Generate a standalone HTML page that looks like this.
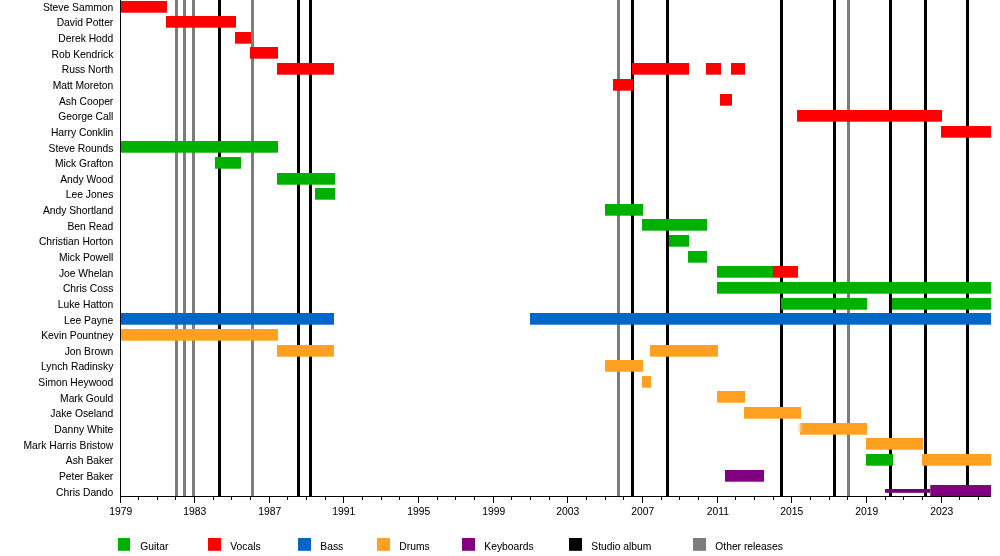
<!DOCTYPE html><html><head><meta charset="utf-8"><style>html,body{margin:0;padding:0;background:#fff;width:1000px;height:556px;overflow:hidden}svg{display:block;will-change:transform}text{font-family:"Liberation Sans",sans-serif;font-size:10.3px;fill:#000;stroke:#000;stroke-width:0.05px}</style></head><body>
<svg width="1000" height="556" viewBox="0 0 1000 556">
<rect x="175" y="0" width="3" height="496" fill="#7c7c7c"/>
<rect x="183" y="0" width="3" height="496" fill="#7c7c7c"/>
<rect x="192" y="0" width="3" height="496" fill="#7c7c7c"/>
<rect x="251" y="0" width="3" height="496" fill="#7c7c7c"/>
<rect x="617" y="0" width="3" height="496" fill="#7c7c7c"/>
<rect x="847" y="0" width="3" height="496" fill="#7c7c7c"/>
<rect x="218" y="0" width="3" height="496" fill="#000"/>
<rect x="297" y="0" width="3" height="496" fill="#000"/>
<rect x="309" y="0" width="3" height="496" fill="#000"/>
<rect x="631" y="0" width="3" height="496" fill="#000"/>
<rect x="666" y="0" width="3" height="496" fill="#000"/>
<rect x="780" y="0" width="3" height="496" fill="#000"/>
<rect x="833" y="0" width="3" height="496" fill="#000"/>
<rect x="889" y="0" width="3" height="496" fill="#000"/>
<rect x="924" y="0" width="3" height="496" fill="#000"/>
<rect x="966" y="0" width="3" height="496" fill="#000"/>
<rect x="121" y="1.00" width="46.00" height="11.7" fill="#ff0000"/>
<rect x="166" y="16.00" width="70.00" height="11.7" fill="#ff0000"/>
<rect x="235" y="32.00" width="16.00" height="11.7" fill="#ff0000"/>
<rect x="250" y="47.00" width="28.00" height="11.7" fill="#ff0000"/>
<rect x="277" y="63.00" width="57.00" height="11.7" fill="#ff0000"/>
<rect x="632" y="63.00" width="57.00" height="11.7" fill="#ff0000"/>
<rect x="706" y="63.00" width="15.00" height="11.7" fill="#ff0000"/>
<rect x="731" y="63.00" width="14.00" height="11.7" fill="#ff0000"/>
<rect x="613" y="79.00" width="20.00" height="11.7" fill="#ff0000"/>
<rect x="720" y="94.00" width="12.00" height="11.7" fill="#ff0000"/>
<rect x="797" y="110.00" width="145.00" height="11.7" fill="#ff0000"/>
<rect x="941" y="126.00" width="50.00" height="11.7" fill="#ff0000"/>
<rect x="121" y="141.00" width="157.00" height="11.7" fill="#00b000"/>
<rect x="215" y="157.00" width="26.00" height="11.7" fill="#00b000"/>
<rect x="277" y="173.00" width="58.00" height="11.7" fill="#00b000"/>
<rect x="315" y="188.00" width="20.00" height="11.7" fill="#00b000"/>
<rect x="605" y="204.00" width="38.00" height="11.7" fill="#00b000"/>
<rect x="642" y="219.00" width="65.00" height="11.7" fill="#00b000"/>
<rect x="669" y="235.00" width="20.00" height="11.7" fill="#00b000"/>
<rect x="688" y="251.00" width="19.00" height="11.7" fill="#00b000"/>
<rect x="717" y="266.00" width="56.00" height="11.7" fill="#00b000"/>
<rect x="773" y="266.00" width="25.00" height="11.7" fill="#ff0000"/>
<rect x="717" y="282.00" width="274.00" height="11.7" fill="#00b000"/>
<rect x="781" y="298.00" width="86.00" height="11.7" fill="#00b000"/>
<rect x="892" y="298.00" width="99.00" height="11.7" fill="#00b000"/>
<rect x="121" y="313.00" width="213.00" height="11.7" fill="#0066cc"/>
<rect x="530" y="313.00" width="461.00" height="11.7" fill="#0066cc"/>
<rect x="121" y="329.00" width="157.00" height="11.7" fill="#ffa020"/>
<rect x="277" y="345.00" width="57.00" height="11.7" fill="#ffa020"/>
<rect x="650" y="345.00" width="68.00" height="11.7" fill="#ffa020"/>
<rect x="605" y="360.00" width="38.00" height="11.7" fill="#ffa020"/>
<rect x="642" y="376.00" width="9.00" height="11.7" fill="#ffa020"/>
<rect x="717" y="391.00" width="28.00" height="11.7" fill="#ffa020"/>
<rect x="744" y="407.00" width="57.00" height="11.7" fill="#ffa020"/>
<rect x="800" y="423.00" width="67.00" height="11.7" fill="#ffa020"/>
<rect x="866" y="438.00" width="57.00" height="11.7" fill="#ffa020"/>
<rect x="866" y="454.00" width="27.00" height="11.7" fill="#00b000"/>
<rect x="922" y="454.00" width="69.00" height="11.7" fill="#ffa020"/>
<rect x="725" y="470.00" width="39.00" height="11.7" fill="#800080"/>
<defs><linearGradient id="dw1" x1="0" x2="1" y1="0" y2="0"><stop offset="0" stop-color="#ffe8c8" stop-opacity="0.2"/><stop offset="1" stop-color="#fcd9a8" stop-opacity="1"/></linearGradient><linearGradient id="dw2" x1="0" x2="1" y1="0" y2="0"><stop offset="0" stop-color="#f8c27c"/><stop offset="1" stop-color="#ffa020"/></linearGradient></defs>
<rect x="797" y="423" width="3" height="9" fill="url(#dw1)"/>
<rect x="800" y="423" width="3.5" height="9" fill="url(#dw2)"/>
<rect x="885" y="489" width="45.3" height="3.8" fill="#720072"/>
<rect x="930.3" y="485.00" width="60.70" height="11.00" fill="#800080"/>
<rect x="120" y="0" width="1" height="497" fill="#000"/>
<rect x="120" y="496" width="871" height="1" fill="#000"/>
<rect x="120" y="497" width="1" height="6" fill="#000"/>
<text x="120.8" y="514.8" text-anchor="middle">1979</text>
<rect x="138" y="497" width="1" height="3" fill="#000"/>
<rect x="157" y="497" width="1" height="3" fill="#000"/>
<rect x="175" y="497" width="1" height="3" fill="#000"/>
<rect x="194" y="497" width="1" height="6" fill="#000"/>
<text x="194.8" y="514.8" text-anchor="middle">1983</text>
<rect x="213" y="497" width="1" height="3" fill="#000"/>
<rect x="231" y="497" width="1" height="3" fill="#000"/>
<rect x="250" y="497" width="1" height="3" fill="#000"/>
<rect x="269" y="497" width="1" height="6" fill="#000"/>
<text x="269.8" y="514.8" text-anchor="middle">1987</text>
<rect x="287" y="497" width="1" height="3" fill="#000"/>
<rect x="306" y="497" width="1" height="3" fill="#000"/>
<rect x="325" y="497" width="1" height="3" fill="#000"/>
<rect x="343" y="497" width="1" height="6" fill="#000"/>
<text x="343.8" y="514.8" text-anchor="middle">1991</text>
<rect x="362" y="497" width="1" height="3" fill="#000"/>
<rect x="381" y="497" width="1" height="3" fill="#000"/>
<rect x="399" y="497" width="1" height="3" fill="#000"/>
<rect x="418" y="497" width="1" height="6" fill="#000"/>
<text x="418.8" y="514.8" text-anchor="middle">1995</text>
<rect x="437" y="497" width="1" height="3" fill="#000"/>
<rect x="455" y="497" width="1" height="3" fill="#000"/>
<rect x="474" y="497" width="1" height="3" fill="#000"/>
<rect x="493" y="497" width="1" height="6" fill="#000"/>
<text x="493.8" y="514.8" text-anchor="middle">1999</text>
<rect x="511" y="497" width="1" height="3" fill="#000"/>
<rect x="530" y="497" width="1" height="3" fill="#000"/>
<rect x="549" y="497" width="1" height="3" fill="#000"/>
<rect x="567" y="497" width="1" height="6" fill="#000"/>
<text x="567.8" y="514.8" text-anchor="middle">2003</text>
<rect x="586" y="497" width="1" height="3" fill="#000"/>
<rect x="605" y="497" width="1" height="3" fill="#000"/>
<rect x="623" y="497" width="1" height="3" fill="#000"/>
<rect x="642" y="497" width="1" height="6" fill="#000"/>
<text x="642.8" y="514.8" text-anchor="middle">2007</text>
<rect x="661" y="497" width="1" height="3" fill="#000"/>
<rect x="679" y="497" width="1" height="3" fill="#000"/>
<rect x="698" y="497" width="1" height="3" fill="#000"/>
<rect x="717" y="497" width="1" height="6" fill="#000"/>
<text x="717.8" y="514.8" text-anchor="middle">2011</text>
<rect x="735" y="497" width="1" height="3" fill="#000"/>
<rect x="754" y="497" width="1" height="3" fill="#000"/>
<rect x="773" y="497" width="1" height="3" fill="#000"/>
<rect x="791" y="497" width="1" height="6" fill="#000"/>
<text x="791.8" y="514.8" text-anchor="middle">2015</text>
<rect x="810" y="497" width="1" height="3" fill="#000"/>
<rect x="829" y="497" width="1" height="3" fill="#000"/>
<rect x="847" y="497" width="1" height="3" fill="#000"/>
<rect x="866" y="497" width="1" height="6" fill="#000"/>
<text x="866.8" y="514.8" text-anchor="middle">2019</text>
<rect x="885" y="497" width="1" height="3" fill="#000"/>
<rect x="903" y="497" width="1" height="3" fill="#000"/>
<rect x="922" y="497" width="1" height="3" fill="#000"/>
<rect x="941" y="497" width="1" height="6" fill="#000"/>
<text x="941.8" y="514.8" text-anchor="middle">2023</text>
<rect x="959" y="497" width="1" height="3" fill="#000"/>
<rect x="978" y="497" width="1" height="3" fill="#000"/>
<text x="113.3" y="10.80" text-anchor="end">Steve Sammon</text>
<text x="113.3" y="26.44" text-anchor="end">David Potter</text>
<text x="113.3" y="42.07" text-anchor="end">Derek Hodd</text>
<text x="113.3" y="57.71" text-anchor="end">Rob Kendrick</text>
<text x="113.3" y="73.35" text-anchor="end">Russ North</text>
<text x="113.3" y="88.98" text-anchor="end">Matt Moreton</text>
<text x="113.3" y="104.62" text-anchor="end">Ash Cooper</text>
<text x="113.3" y="120.26" text-anchor="end">George Call</text>
<text x="113.3" y="135.89" text-anchor="end">Harry Conklin</text>
<text x="113.3" y="151.53" text-anchor="end">Steve Rounds</text>
<text x="113.3" y="167.17" text-anchor="end">Mick Grafton</text>
<text x="113.3" y="182.80" text-anchor="end">Andy Wood</text>
<text x="113.3" y="198.44" text-anchor="end">Lee Jones</text>
<text x="113.3" y="214.07" text-anchor="end">Andy Shortland</text>
<text x="113.3" y="229.71" text-anchor="end">Ben Read</text>
<text x="113.3" y="245.35" text-anchor="end">Christian Horton</text>
<text x="113.3" y="260.98" text-anchor="end">Mick Powell</text>
<text x="113.3" y="276.62" text-anchor="end">Joe Whelan</text>
<text x="113.3" y="292.26" text-anchor="end">Chris Coss</text>
<text x="113.3" y="307.89" text-anchor="end">Luke Hatton</text>
<text x="113.3" y="323.53" text-anchor="end">Lee Payne</text>
<text x="113.3" y="339.17" text-anchor="end">Kevin Pountney</text>
<text x="113.3" y="354.80" text-anchor="end">Jon Brown</text>
<text x="113.3" y="370.44" text-anchor="end">Lynch Radinsky</text>
<text x="113.3" y="386.08" text-anchor="end">Simon Heywood</text>
<text x="113.3" y="401.71" text-anchor="end">Mark Gould</text>
<text x="113.3" y="417.35" text-anchor="end">Jake Oseland</text>
<text x="113.3" y="432.99" text-anchor="end">Danny White</text>
<text x="113.3" y="448.62" text-anchor="end">Mark Harris Bristow</text>
<text x="113.3" y="464.26" text-anchor="end">Ash Baker</text>
<text x="113.3" y="479.89" text-anchor="end">Peter Baker</text>
<text x="113.3" y="495.53" text-anchor="end">Chris Dando</text>
<rect x="118" y="538" width="12" height="12.8" fill="#00b000"/>
<text x="140.3" y="550">Guitar</text>
<rect x="208" y="538" width="13" height="12.8" fill="#ff0000"/>
<text x="230.3" y="550">Vocals</text>
<rect x="298" y="538" width="13" height="12.8" fill="#0066cc"/>
<text x="320.3" y="550">Bass</text>
<rect x="377" y="538" width="13" height="12.8" fill="#ffa020"/>
<text x="399.3" y="550">Drums</text>
<rect x="462" y="538" width="13" height="12.8" fill="#800080"/>
<text x="484.3" y="550">Keyboards</text>
<rect x="569" y="538" width="13" height="12.8" fill="#000000"/>
<text x="591.3" y="550">Studio album</text>
<rect x="693" y="538" width="13" height="12.8" fill="#7c7c7c"/>
<text x="715.3" y="550">Other releases</text>
</svg></body></html>
